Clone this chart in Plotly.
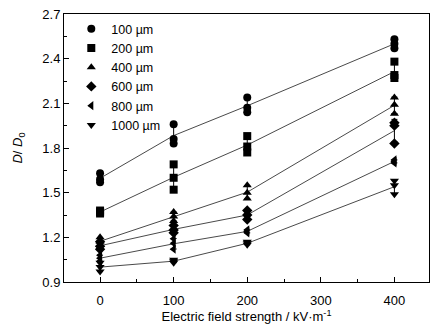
import numpy as np
import plotly.graph_objects as go

x_field = [0, 100, 200, 400]
series_names = ["100 µm", "200 µm", "400 µm", "600 µm", "800 µm", "1000 µm"]
symbols = ["circle", "square", "triangle-up", "diamond", "triangle-left", "triangle-down"]

# replicate measurements of D/D0 at each field strength
d100 = [[1.63, 1.59, 1.57], [1.96, 1.86, 1.83], [2.14, 2.07, 2.04], [2.53, 2.50, 2.47]]
d200 = [[1.38, 1.37, 1.36], [1.69, 1.60, 1.52], [1.88, 1.81, 1.77], [2.38, 2.29, 2.27]]
d400 = [[1.20, 1.17, 1.15], [1.37, 1.34, 1.31], [1.55, 1.50, 1.46], [2.14, 2.09, 2.03]]
d600 = [[1.17, 1.14, 1.12], [1.28, 1.25, 1.23], [1.38, 1.35, 1.32], [1.97, 1.95, 1.83]]
d800 = [[1.08, 1.06, 1.04], [1.19, 1.16, 1.12], [1.25, 1.24, 1.23], [1.72, 1.71, 1.70]]
d1000 = [[1.03, 1.00, 0.97], [1.05, 1.04, 1.03], [1.17, 1.16, 1.15], [1.58, 1.55, 1.49]]
all_data = [d100, d200, d400, d600, d800, d1000]

fig = go.Figure()
for name, sym, data in zip(series_names, symbols, all_data):
    arr = np.array(data)
    mean = arr.mean(axis=1)
    sd = arr.std(axis=1, ddof=1)
    fig.add_trace(go.Scatter(x=x_field, y=mean, mode="lines",
                             line=dict(color="#4a4a4a", width=1),
                             showlegend=False, hoverinfo="skip"))
    fig.add_trace(go.Scatter(x=x_field, y=mean, mode="markers",
                             marker=dict(size=1, color="black"),
                             error_y=dict(type="data", array=sd, color="black",
                                          thickness=1, width=3),
                             showlegend=False, hoverinfo="skip"))
    xs = [x for x, row in zip(x_field, data) for _ in row]
    ys = [v for row in data for v in row]
    fig.add_trace(go.Scatter(x=xs, y=ys, mode="markers", name=name,
                             marker=dict(symbol=sym, size=8, color="black")))

font = dict(family="Liberation Sans, Arial, sans-serif", size=13, color="black")
legend_font = dict(family="Liberation Sans, Arial, sans-serif", size=12.5, color="black")
fig.update_layout(
    width=436, height=326,
    margin=dict(l=64, r=7, t=14, b=44),
    plot_bgcolor="white", paper_bgcolor="white",
    font=font,
    showlegend=True,
    legend=dict(x=0.02, y=1.0, xanchor="left", yanchor="top",
                bgcolor="rgba(0,0,0,0)", font=legend_font, tracegroupgap=0,
                itemsizing="trace"),
    xaxis=dict(range=[-49, 447], tickvals=[0, 100, 200, 300, 400],
               ticks="inside", ticklen=5, tickcolor="black",
               ticklabelstandoff=6,
               minor=dict(dtick=50, ticks="inside", ticklen=3, tickcolor="black"),
               showline=True, linecolor="black", linewidth=1, mirror=True,
               showgrid=False, zeroline=False,
               title=dict(text="Electric field strength / kV·m<sup>-1</sup>",
                          standoff=2, font=font)),
    yaxis=dict(range=[0.9, 2.7], tickvals=[0.9, 1.2, 1.5, 1.8, 2.1, 2.4, 2.7],
               tickformat=".1f",
               ticks="inside", ticklen=5, tickcolor="black",
               minor=dict(dtick=0.15, ticks="inside", ticklen=3, tickcolor="black"),
               showline=True, linecolor="black", linewidth=1, mirror=True,
               showgrid=False, zeroline=False,
               title=dict(text="<i>D</i>/ <i>D</i><sub>0</sub>", standoff=16, font=font)),
)
fig.write_html("out.html")
